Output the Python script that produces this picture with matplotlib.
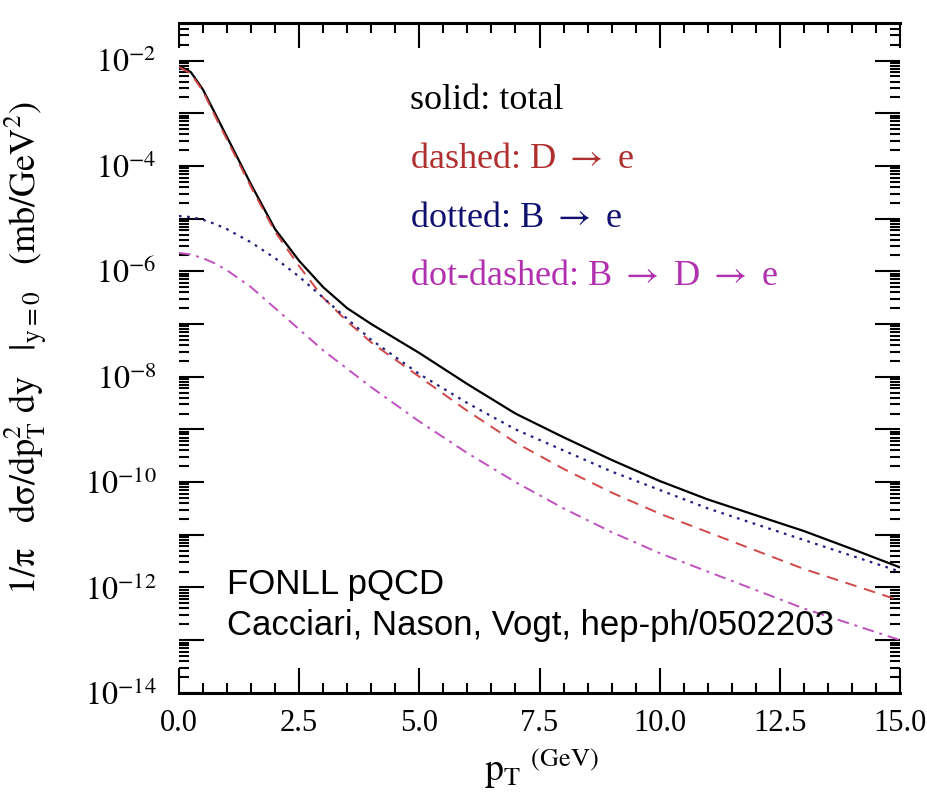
import matplotlib
matplotlib.use("Agg")
import matplotlib.pyplot as plt
import numpy as np
from matplotlib.ticker import LogLocator, FuncFormatter, MultipleLocator, NullFormatter

plt.rcParams['font.family'] = ['Liberation Serif', 'DejaVu Serif']
plt.rcParams['mathtext.fontset'] = 'stix'

# pT grid (GeV) and log10 of 1/pi dsigma/dpT^2 dy
pt = [0, 0.25, 0.5, 0.75, 1, 1.5, 2, 2.5, 3, 3.5, 4, 5, 6, 7, 8, 9, 10, 11, 12, 13, 14, 15]
total_log = [-2.10, -2.22, -2.55, -3.00, -3.45, -4.35, -5.20, -5.80, -6.30, -6.70, -7.00,
             -7.55, -8.14, -8.70, -9.15, -9.58, -9.98, -10.33, -10.63, -10.93, -11.27, -11.62]
d_to_e_log = [-2.12, -2.25, -2.58, -3.05, -3.50, -4.40, -5.25, -5.90, -6.50, -6.95, -7.35,
              -8.00, -8.65, -9.25, -9.75, -10.20, -10.60, -10.95, -11.30, -11.65, -11.95, -12.25]
b_to_e_log = [-4.95, -4.97, -5.02, -5.10, -5.20, -5.45, -5.75, -6.10, -6.50, -6.90, -7.30,
              -7.95, -8.50, -9.00, -9.40, -9.80, -10.15, -10.50, -10.80, -11.10, -11.40, -11.70]
bde_log = [-5.65, -5.68, -5.75, -5.85, -5.98, -6.30, -6.70, -7.10, -7.50, -7.85, -8.20,
           -8.85, -9.45, -10.00, -10.50, -10.95, -11.35, -11.70, -12.05, -12.40, -12.70, -13.00]

legend_lines = ["solid: total", r"dashed: D $\rightarrow$ e",
                r"dotted: B $\rightarrow$ e", r"dot-dashed: B $\rightarrow$ D $\rightarrow$ e"]
legend_colors = ["black", "#b03030", "#101070", "#b030b0"]

pt = np.array(pt)
fig = plt.figure(figsize=(9.27, 8.0), dpi=100)
ax = fig.add_axes([0.193, 0.134, 0.778, 0.837])

ax.plot(pt, 10**np.array(total_log), color='black', lw=1.6, ls='-')
ax.plot(pt, 10**np.array(d_to_e_log), color='#d04848', lw=1.4, ls=(0, (6, 4)))
ax.plot(pt, 10**np.array(b_to_e_log), color='#202080', lw=1.6, ls=(0, (1.2, 2.5)))
ax.plot(pt, 10**np.array(bde_log), color='#c050c0', lw=1.4, ls=(0, (6, 3, 1.5, 3)))

ax.set_yscale('log')
ax.set_xlim(0, 15)
ax.set_ylim(1e-14, 10**-1.29)

ax.xaxis.set_major_locator(MultipleLocator(2.5))
ax.xaxis.set_minor_locator(MultipleLocator(0.5))
ax.xaxis.set_major_formatter(FuncFormatter(lambda v, p: f"{v:.1f}"))
ax.yaxis.set_major_locator(LogLocator(base=10, numticks=30))
ax.yaxis.set_minor_locator(LogLocator(base=10, subs=np.arange(2, 10), numticks=30))
ax.yaxis.set_minor_formatter(NullFormatter())


def ylab(v, p):
    e = int(round(np.log10(v)))
    return rf"$10^{{-{-e}}}$" if e % 2 == 0 else ""


ax.yaxis.set_major_formatter(FuncFormatter(ylab))

ax.tick_params(which='both', direction='in', top=True, right=True, width=1.5, colors='black')
ax.tick_params(which='major', length=18)
ax.tick_params(which='minor', length=7)
ax.tick_params(axis='x', which='major', labelsize=22, pad=12)
ax.tick_params(axis='y', which='major', labelsize=23, pad=16)

for s in ['left', 'right']:
    ax.spines[s].set_visible(False)
for s in ['top', 'bottom']:
    ax.spines[s].set_linewidth(2.2)

ax.set_xlabel(r"$\mathrm{p_T}\ ^{\mathrm{(GeV)}}$", fontsize=27)
ax.xaxis.set_label_coords(0.502, -0.08)
ax.set_ylabel(r"$\mathrm{1/\pi\ \ \ d\sigma/dp_T^2\ dy\ \ \ |_{y=0}\ \ \ (mb/GeV^2)}$", fontsize=26)
ax.yaxis.set_label_coords(-0.18, 0.515)

for i, (txt, c) in enumerate(zip(legend_lines, legend_colors)):
    ax.text(0.32, 0.885 - i * 0.088, txt, transform=ax.transAxes, fontsize=26,
            color=c, va='center', ha='left')

ax.text(0.067, 0.161, "FONLL pQCD", transform=ax.transAxes, fontsize=25,
        family=['Liberation Sans', 'DejaVu Sans'], va='center', ha='left')
ax.text(0.067, 0.101, "Cacciari, Nason, Vogt, hep-ph/0502203", transform=ax.transAxes,
        fontsize=25, family=['Liberation Sans', 'DejaVu Sans'], va='center', ha='left')

fig.savefig("out.png", dpi=100)
